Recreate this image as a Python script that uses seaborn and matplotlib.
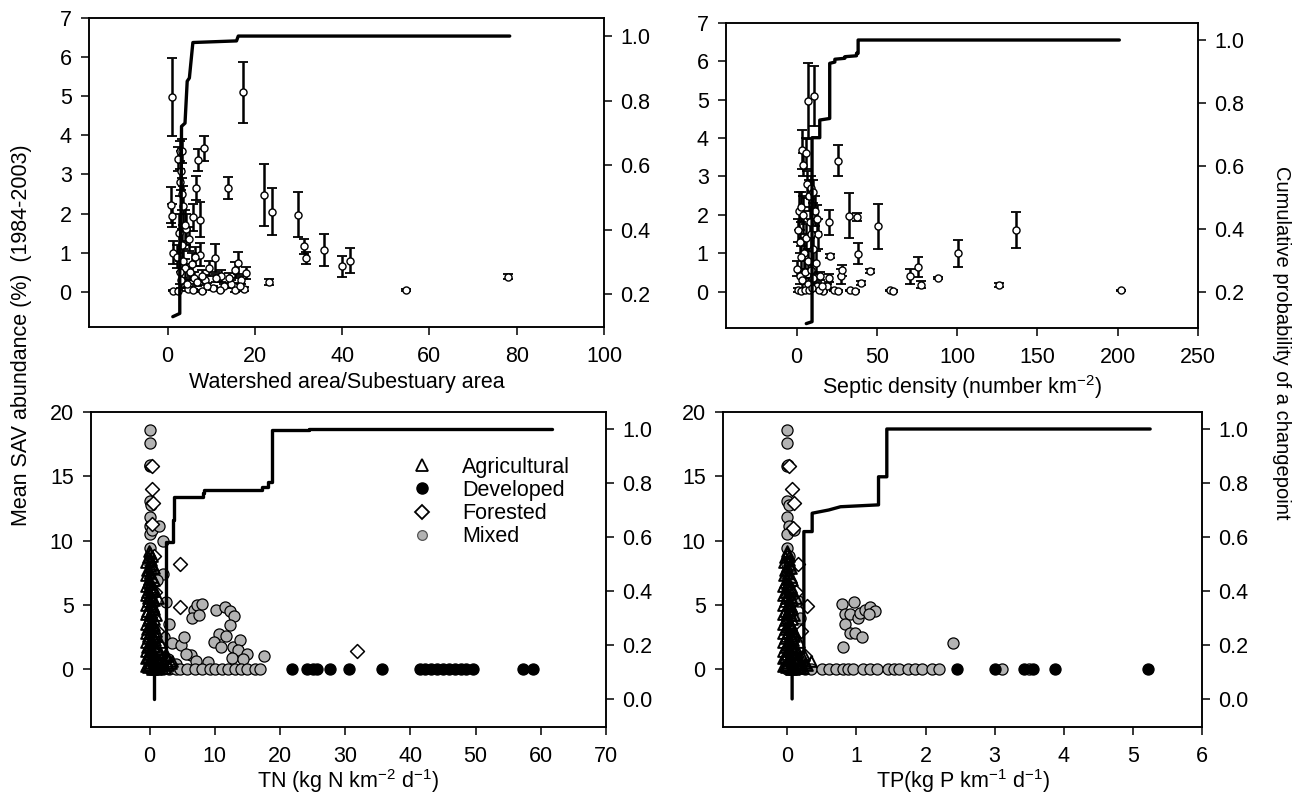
import matplotlib
matplotlib.use('Agg')
import matplotlib.pyplot as plt
from matplotlib.lines import Line2D
import seaborn as sns
import pandas as pd

# ---- top left: watershed area / subestuary area ----
ws_x = [1.1, 17.3, 8.4, 13.9, 22.1, 23.9, 30.0, 31.3, 31.7, 35.9, 23.3, 39.9, 41.8, 54.6, 78.0,
        0.85, 1.1, 1.3, 2.8, 2.4, 2.8, 3.0, 3.3, 7.0, 6.6, 7.4, 5.9, 4.3, 4.8, 7.4, 10.8, 16.2,
        15.5, 17.9, 9.6, 12.3, 14.5, 15.5, 17.6, 1.2, 2.4, 4.7, 5.8, 8.0, 10.3, 13.0, 3.6, 3.9,
        3.2, 3.5, 4.0, 5.2, 6.0, 6.8, 8.5, 9.0, 11.0, 2.9, 3.1, 4.4, 5.5, 6.3, 7.8, 3.4, 2.6,
        2.2, 12.0, 14.0, 16.8, 16.5]
ws_mean = [4.98, 5.1, 3.67, 2.65, 2.48, 2.05, 1.97, 1.16, 0.86, 1.07, 0.25, 0.65, 0.8, 0.05, 0.39,
           2.22, 1.95, 1.0, 3.6, 3.4, 2.8, 3.1, 2.5, 3.37, 2.65, 1.84, 1.9, 1.6, 1.35, 0.95, 0.86, 0.73,
           0.55, 0.48, 0.6, 0.4, 0.2, 0.05, 0.07, 0.03, 0.03, 0.08, 0.05, 0.02, 0.1, 0.15, 2.2, 1.7,
           1.2, 0.8, 0.6, 0.5, 0.35, 0.25, 0.3, 0.15, 0.35, 0.5, 0.3, 0.2, 0.7, 0.9, 0.4, 3.6, 1.5,
           0.9, 0.05, 0.35, 0.3, 0.15]
ws_se = [1.0, 0.78, 0.32, 0.28, 0.8, 0.6, 0.58, 0.2, 0.15, 0.4, 0.08, 0.26, 0.33, 0.03, 0.07,
         0.46, 0.3, 0.3, 0.25, 0.3, 0.35, 0.5, 0.4, 0.27, 0.3, 0.45, 0.35, 0.4, 0.3, 0.3, 0.35, 0.28,
         0.2, 0.15, 0.2, 0.15, 0.1, 0.05, 0.05, 0.02, 0.02, 0.05, 0.03, 0.02, 0.05, 0.06, 0.5, 0.4,
         0.4, 0.3, 0.25, 0.2, 0.15, 0.1, 0.12, 0.08, 0.1, 0.3, 0.2, 0.1, 0.3, 0.25, 0.15, 0.3, 0.5,
         0.3, 0.04, 0.12, 0.1, 0.08]
ws_cp_x = [1.2, 2.8, 2.8, 3.1, 3.2, 4.0, 4.5, 5.0, 5.8, 15.8, 16.2, 78.4]
ws_cp_p = [0.13, 0.14, 0.30, 0.45, 0.72, 0.73, 0.86, 0.87, 0.98, 0.985, 1.0, 1.0]

# ---- top right: septic density ----
sep_x = [7.1, 10.8, 3.1, 5.8, 25.8, 20.2, 32.7, 37.7, 50.4, 38.3, 20.6, 45.6, 40.4, 70.6, 75.8,
         77.3, 87.9, 100.8, 58.0, 60.0, 27.9, 28.5, 33.5, 36.5, 23.4, 25.6, 18.9, 16.4, 20.0,
         125.8, 136.9, 201.9,
         4.0, 6.5, 7.5, 1.5, 2.5, 9.0, 10.5, 11.5, 12.5, 8.5, 0.8, 2.0, 4.5, 6.0, 10.0, 11.8, 13.2,
         0.5, 1.8, 3.5, 5.2, 7.0, 8.8, 10.5, 12.5, 14.5, 1.0, 3.0, 5.0, 7.5, 9.5, 13.8, 16.0, 2.8,
         6.8, 9.2, 4.2]
sep_mean = [4.97, 5.1, 3.7, 3.6, 3.41, 1.8, 1.98, 1.94, 1.7, 0.99, 0.92, 0.53, 0.23, 0.4, 0.64,
            0.18, 0.36, 1.0, 0.03, 0.02, 0.4, 0.55, 0.03, 0.02, 0.03, 0.02, 0.15, 0.02, 0.35,
            0.18, 1.61, 0.03,
            3.3, 2.8, 2.5, 2.1, 2.2, 2.7, 2.6, 2.1, 1.9, 1.8, 1.6, 1.3, 1.0, 1.4, 1.1, 0.75, 1.5,
            0.6, 0.4, 0.3, 0.5, 0.2, 0.55, 0.35, 0.15, 0.4, 0.05, 0.02, 0.05, 0.03, 0.08, 0.05, 0.15, 0.9,
            0.8, 1.5, 2.0]
sep_se = [1.0, 0.78, 0.5, 0.4, 0.4, 0.33, 0.58, 0.1, 0.58, 0.27, 0.05, 0.05, 0.05, 0.2, 0.25,
          0.1, 0.03, 0.35, 0.02, 0.02, 0.2, 0.15, 0.02, 0.02, 0.02, 0.02, 0.05, 0.02, 0.1,
          0.05, 0.47, 0.02,
          0.3, 0.35, 0.4, 0.5, 0.4, 0.3, 0.3, 0.4, 0.35, 0.4, 0.3, 0.3, 0.4, 0.35, 0.4, 0.3, 0.4,
          0.2, 0.2, 0.2, 0.3, 0.15, 0.2, 0.15, 0.1, 0.1, 0.05, 0.02, 0.03, 0.03, 0.05, 0.04, 0.05, 0.3,
          0.3, 0.4, 0.5]
sep_cp_x = [6.0, 9.6, 9.6, 14.4, 14.4, 20.6, 20.6, 23.8, 23.8, 30.0, 30.0, 37.3, 37.3, 38.3, 38.3, 201.0]
sep_cp_p = [0.10, 0.106, 0.69, 0.69, 0.746, 0.751, 0.926, 0.93, 0.939, 0.942, 0.947, 0.95, 0.958, 0.958, 1.0, 1.0]

# ---- bottom: land use points ----
col_y = [18.6, 17.6, 15.8, 15.9, 13.1, 12.8, 11.8, 11.1, 10.5, 10.8, 9.4, 8.8, 8.2, 7.6, 7.1,
         6.6, 6.2, 5.6, 5.0, 4.4, 3.8, 3.0, 2.4, 1.6, 0.9, 0.0, 0.3]
agr_y = [0.2, 0.5, 0.8, 1.2, 1.5, 1.9, 2.2, 2.6, 2.9, 3.3, 3.6, 4.0, 4.4, 4.7, 5.1, 5.5, 5.8,
         6.2, 6.6, 7.0, 7.5, 8.0, 8.5, 9.0, 0.1, 0.4, 0.2, 0.6, 0.3, 0.1, 1.8, 2.6, 3.4, 4.2,
         1.3, 1.0, 0.5, 5.5, 8.8, 9.2,
         0.05, 0.35, 0.65, 0.95, 1.35, 1.7, 2.05, 2.4, 2.75, 3.15, 3.45, 3.85, 4.2, 4.55, 4.9,
         5.3, 5.65, 6.0, 6.4, 6.8, 7.2, 7.7, 8.2, 8.7, 0.15, 0.45, 0.75, 1.1, 2.1, 3.0,
         0.25, 0.55, 0.85, 1.15, 1.45, 1.75, 2.15, 2.45, 2.85, 3.2, 3.55, 3.9, 4.3, 4.65, 5.0,
         5.4, 5.75, 6.1, 6.5, 6.9, 7.35, 7.85, 8.35, 0.0, 0.1, 0.3, 0.6, 0.9, 1.6, 2.3]

tn_mixed_x = [0, 0, 0, 0.1, 0, 0.2, 0, 0.1, 0, 0.3, 0, 0.1, 0, 0.2, 0, 0.4, 0.1, 0, 0.3, 0.5,
              0, 0.2, 0.6, 0.1, 0.4, 0.0, 0.7,
              1.5, 2.0, 2.0, 1.2, 2.5, 3.0, 2.2, 3.5, 4.8, 5.3, 6.3, 5.6, 6.8, 7.3, 6.5, 7.6, 8.1,
              10.2, 11.5, 12.3, 13.0, 12.3, 10.7, 11.7, 9.9, 11.0, 12.8, 13.8, 13.5, 15.0, 12.6,
              14.3, 17.6, 8.9, 7.1, 2.8, 4.0,
              1.0, 2.1, 3.0, 4.0, 4.6, 5.8, 7.0, 8.1, 9.2, 10.0, 11.1, 12.0, 13.1, 14.0, 15.0, 16.1, 16.9]
tn_mixed_y = col_y + [11.15, 10.0, 7.4, 6.9, 5.2, 3.5, 2.5, 2.0, 1.9, 2.5, 1.07, 1.2, 4.6, 5.0,
                      4.0, 4.25, 5.1, 4.6, 4.8, 4.5, 4.1, 3.4, 2.7, 2.6, 2.1, 1.7, 1.7, 2.3, 1.5,
                      1.2, 0.9, 0.8, 1.0, 0.55, 0.67, 0.8, 0.4,
                      0, 0, 0, 0, 0, 0, 0, 0, 0, 0, 0, 0, 0, 0, 0, 0, 0]
tn_dev_x = [21.9, 24.2, 25.0, 25.6, 27.7, 30.5, 35.6, 41.5, 42.3, 43.1, 44.0, 45.0, 45.9, 46.8,
            47.7, 48.6, 49.6, 57.3, 58.8]
tn_dev_y = [0] * 19
tn_for_x = [0.3, 0.4, 0.5, 0.3, 4.6, 4.6, 31.8, 0.6, 0.8, 1.2, 0.9]
tn_for_y = [14.0, 15.8, 12.9, 11.3, 8.15, 4.85, 1.42, 8.8, 6.0, 3.0, 1.3]
tn_agr_x = [-0.2, 0, 0.2, -0.1, 0.1, 0, 0.3, -0.2, 0.1, 0, 0.2, -0.1, 0, 0.3, 0.1, -0.2, 0,
            0.2, 0, -0.1, 0.1, 0, 0.2, 0, 0.5, 0.8, 1.1, 1.4, 1.8, 2.3, 0.6, 0.9, 0.6, 1.0,
            1.6, 2.6, 3.2, 1.3, 0.3, -0.1,
            0.4, -0.4, 0.5, -0.3, 0.4, -0.4, 0.5, -0.3, 0.4, -0.4, 0.5, -0.3, 0.4, -0.4, 0.5,
            -0.3, 0.4, -0.4, 0.5, -0.3, 0.4, -0.4, 0.3, -0.3, 1.5, 2.0, 1.2, 2.4, 1.6, 0.9,
            -0.6, 0.7, -0.6, 0.7, -0.6, 0.7, -0.6, 0.7, -0.6, 0.7, -0.6, 0.7, -0.6, 0.7, -0.6,
            0.7, -0.6, 0.7, -0.6, 0.7, -0.5, 0.6, -0.5, 1.0, 1.9, 2.8, 3.5, 1.7, 1.1, 0.8]

tp_mixed_x = [0, 0, 0, 0.01, 0, 0.02, 0, 0.02, 0, 0.1, 0, 0.02, 0, 0.03, 0, 0.05, 0.01, 0,
              0.04, 0.06, 0, 0.03, 0.08, 0.02, 0.05, 0.0, 0.12,
              0.15, 0.18, 0.79, 0.96, 0.84, 0.91, 1.03, 1.05, 1.13, 1.2, 1.27, 1.18, 0.84, 0.91,
              0.98, 1.08, 0.8, 2.4,
              0.25, 0.35, 0.5, 0.6, 0.7, 0.8, 0.88, 0.95, 1.1, 1.2, 1.3, 1.45, 1.55, 1.62, 1.75,
              1.85, 1.95, 2.1, 2.2, 3.1, 3.5]
tp_mixed_y = col_y + [5.3, 4.0, 5.1, 5.2, 4.3, 4.3, 4.0, 4.4, 4.6, 4.8, 4.5, 4.3, 3.5, 2.8,
                      2.8, 2.5, 1.75, 2.05,
                      0, 0, 0, 0, 0, 0, 0, 0, 0, 0, 0, 0, 0, 0, 0, 0, 0, 0, 0, 0, 0]
tp_dev_x = [2.45, 3.0, 3.42, 3.55, 3.87, 5.22]
tp_dev_y = [0] * 6
tp_for_x = [0.07, 0.03, 0.1, 0.15, 0.28, 0.08, 0.12, 0.2, 0.25]
tp_for_y = [14.0, 15.8, 12.9, 8.2, 4.9, 11.0, 6.0, 3.0, 1.0]
tp_agr_x = [-0.02, 0, 0.02, -0.01, 0.01, 0, 0.03, -0.02, 0.01, 0, 0.02, -0.01, 0, 0.03, 0.01,
            -0.02, 0, 0.02, 0, -0.01, 0.01, 0, 0.02, 0, 0.05, 0.08, 0.11, 0.14, 0.18, 0.23, 0.06,
            0.09, 0.06, 0.1, 0.16, 0.22, 0.26, 0.13, 0.03, -0.01,
            0.05, -0.04, 0.06, -0.03, 0.05, -0.04, 0.06, -0.03, 0.05, -0.04, 0.06, -0.03, 0.05,
            -0.04, 0.06, -0.03, 0.05, -0.04, 0.06, -0.03, 0.05, -0.04, 0.04, -0.03, 0.15, 0.2,
            0.12, 0.24, 0.17, 0.1,
            -0.06, 0.07, -0.06, 0.07, -0.06, 0.07, -0.06, 0.07, -0.06, 0.07, -0.06, 0.07, -0.06,
            0.07, -0.06, 0.07, -0.06, 0.07, -0.06, 0.07, -0.05, 0.06, -0.05, 0.1, 0.19, 0.28,
            0.35, 0.17, 0.11, 0.08]

tn_cp_x = [0.6, 0.6, 2.5, 2.5, 3.6, 3.6, 3.8, 3.8, 8.2, 8.2, 8.4, 8.4, 17.3, 17.3, 18.1, 18.1,
           18.8, 18.8, 24.4, 24.4, 61.7]
tn_cp_p = [0.0, 0.15, 0.15, 0.583, 0.583, 0.663, 0.663, 0.749, 0.749, 0.762, 0.762, 0.774,
           0.774, 0.786, 0.786, 0.805, 0.805, 0.996, 0.996, 1.0, 1.0]
tp_cp_x = [0.07, 0.07, 0.24, 0.24, 0.36, 0.36, 0.6, 0.6, 0.77, 0.77, 1.32, 1.32, 1.44, 1.44, 5.25]
tp_cp_p = [0.0, 0.17, 0.17, 0.62, 0.62, 0.688, 0.7, 0.70, 0.712, 0.712, 0.719, 0.823, 0.823, 1.0, 1.0]

sns.set_style('ticks')
plt.rcParams.update({
    'font.family': ['Liberation Sans', 'DejaVu Sans'],
    'font.size': 15.5,
    'mathtext.fontset': 'custom',
    'mathtext.rm': 'Liberation Sans',
    'mathtext.it': 'Liberation Sans:italic',
    'mathtext.default': 'regular',
    'axes.linewidth': 1.1,
    'axes.edgecolor': 'black',
    'xtick.major.size': 5.5,
    'ytick.major.size': 5.5,
    'xtick.major.width': 1.1,
    'ytick.major.width': 1.1,
    'xtick.major.pad': 8,
    'ytick.major.pad': 7,
    'xtick.color': 'black',
    'ytick.color': 'black',
    'text.color': 'black',
    'axes.labelcolor': 'black',
})

W, H = 1293, 797
fig = plt.figure(figsize=(W / 100, H / 100), dpi=100)


def add_box(left, right, top, bottom):
    return fig.add_axes([left / W, 1 - bottom / H, (right - left) / W, (bottom - top) / H])


def cp_axis(ax, cx, cp, ylim, ticks):
    ax2 = ax.twinx()
    sns.lineplot(x=cx, y=cp, sort=False, estimator=None, color='black', lw=2.4, ax=ax2)
    ax2.set_ylim(*ylim)
    ax2.set_yticks(ticks)
    ax2.set_yticklabels([f'{t:.1f}' for t in ticks])
    ax2.tick_params(axis='y', pad=6)
    ax2.set_ylabel('')
    return ax2


def mean_panel(ax, x, m, se):
    ax.errorbar(x, m, yerr=se, fmt='none', ecolor='black', elinewidth=1.8, capsize=3.5,
                capthick=1.3, zorder=2)
    sns.scatterplot(x=x, y=m, ax=ax, s=26, color='white', edgecolor='black', linewidth=1.0,
                    zorder=3)


# top left
ax = add_box(89, 604, 18, 327)
mean_panel(ax, ws_x, ws_mean, ws_se)
ax.set_xlim(-18, 100)
ax.set_ylim(-0.9, 7)
ax.set_xticks(range(0, 101, 20))
ax.set_yticks(range(0, 8))
ax.set_xlabel('Watershed area/Subestuary area', labelpad=4)
cp_axis(ax, ws_cp_x, ws_cp_p, (0.098, 1.056), [0.2, 0.4, 0.6, 0.8, 1.0])

# top right
ax = add_box(726, 1198, 23, 328)
mean_panel(ax, sep_x, sep_mean, sep_se)
ax.set_xlim(-44, 250)
ax.set_ylim(-0.95, 7)
ax.set_xticks(range(0, 251, 50))
ax.set_yticks(range(0, 8))
ax.set_xlabel('Septic density (number km$^{-2}$)', labelpad=4)
cp_axis(ax, sep_cp_x, sep_cp_p, (0.086, 1.054), [0.2, 0.4, 0.6, 0.8, 1.0])

# open triangles are see-through so the crowded column near zero builds up dark
styles = {
    'Agricultural': dict(marker='^', color=(1, 1, 1, 0), s=60, lw=1.4),
    'Developed': dict(marker='o', color='black', s=64, lw=0.9),
    'Forested': dict(marker='D', color='white', s=50, lw=1.1),
    'Mixed': dict(marker='o', color='#b3b3b3', s=64, lw=0.9),
}


def land_panel(ax, groups):
    for name in ['Mixed', 'Forested', 'Agricultural', 'Developed']:
        gx, gy = groups[name]
        st = styles[name]
        sns.scatterplot(x=gx, y=gy, ax=ax, marker=st['marker'], s=st['s'], color=st['color'],
                        edgecolor='black', linewidth=st['lw'], zorder=3)


# bottom left
ax = add_box(91, 606, 412, 727)
land_panel(ax, {'Agricultural': (tn_agr_x, agr_y), 'Developed': (tn_dev_x, tn_dev_y),
                'Forested': (tn_for_x, tn_for_y), 'Mixed': (tn_mixed_x, tn_mixed_y)})
ax.set_xlim(-9, 70)
ax.set_ylim(-4.5, 20)
ax.set_xticks(range(0, 71, 10))
ax.set_yticks(range(0, 21, 5))
ax.set_xlabel('TN (kg N km$^{-2}$ d$^{-1}$)', labelpad=0)
handles = [Line2D([], [], ls='none', marker='^', ms=8, mfc='white', mec='black', mew=1.3),
           Line2D([], [], ls='none', marker='o', ms=8, mfc='black', mec='black'),
           Line2D([], [], ls='none', marker='D', ms=7, mfc='white', mec='black', mew=1.3),
           Line2D([], [], ls='none', marker='o', ms=7, mfc='#b3b3b3', mec='#555555', mew=0.9)]
ax.legend(handles, ['Agricultural', 'Developed', 'Forested', 'Mixed'], loc='upper left',
          bbox_to_anchor=(0.6, 0.885), frameon=False, handletextpad=1.3, labelspacing=0.1,
          handlelength=1.2, borderaxespad=0)
cp_axis(ax, tn_cp_x, tn_cp_p, (-0.104, 1.063), [0.0, 0.2, 0.4, 0.6, 0.8, 1.0])

# bottom right
ax = add_box(723, 1202, 412, 727)
land_panel(ax, {'Agricultural': (tp_agr_x, agr_y), 'Developed': (tp_dev_x, tp_dev_y),
                'Forested': (tp_for_x, tp_for_y), 'Mixed': (tp_mixed_x, tp_mixed_y)})
ax.set_xlim(-0.93, 6)
ax.set_ylim(-4.5, 20)
ax.set_xticks(range(0, 7))
ax.set_yticks(range(0, 21, 5))
ax.set_xlabel('TP(kg P km$^{-1}$ d$^{-1}$)', labelpad=0)
cp_axis(ax, tp_cp_x, tp_cp_p, (-0.104, 1.063), [0.0, 0.2, 0.4, 0.6, 0.8, 1.0])

fig.text(0.017, 0.58, 'Mean SAV abundance (%)  (1984-2003)', rotation=90, ha='center',
         va='center')
fig.text(0.991, 0.57, 'Cumulative probability of a changepoint', rotation=270, ha='center',
         va='center', fontsize=14.5)

fig.savefig('out.png', dpi=100)
